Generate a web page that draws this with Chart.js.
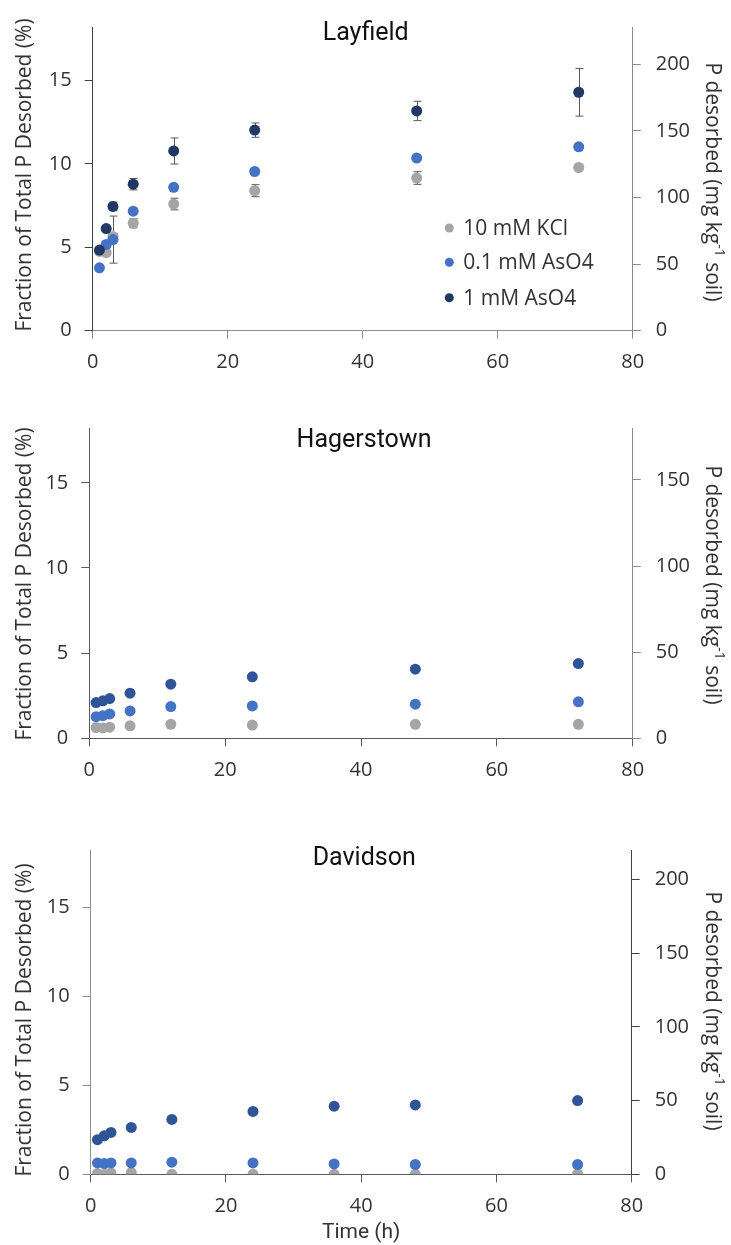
<!DOCTYPE html>
<html>
<head>
<meta charset="utf-8">
<script src="https://cdn.jsdelivr.net/npm/chart.js@4.4.1/dist/chart.umd.min.js"></script>
<style>
  body { margin: 0; background: #fff; width: 731px; height: 1245px; position: relative; overflow: hidden; }
  canvas { position: absolute; left: 0; }
</style>
</head>
<body>
<canvas id="c1" width="731" height="395" style="top:0px"></canvas>
<canvas id="c2" width="731" height="415" style="top:395px"></canvas>
<canvas id="c3" width="731" height="435" style="top:810px"></canvas>
<script>
// time points (h)
const timesA = [1, 2, 3, 6, 12, 24, 48, 72];
const timesD = [1, 2, 3, 6, 12, 24, 36, 48, 72];
const seriesNames = ['10 mM KCl', '0.1 mM AsO4', '1 mM AsO4'];

// Layfield, fraction of total P desorbed (%)
const layKCl = [4.75, 4.68, 5.63, 6.44, 7.59, 8.39, 9.15, 9.78];
const layAs01 = [3.77, 5.17, 5.46, 7.16, 8.59, 9.54, 10.35, 11.02];
const layAs1 = [4.83, 6.12, 7.45, 8.78, 10.77, 12.02, 13.17, 14.29];
const layKClErr = [0, 0, 0.2, 0.27, 0.35, 0.36, 0.38, 0];
const layAs01Err = [0, 0.2, 1.41, 0, 0, 0, 0, 0];
const layAs1Err = [0, 0, 0.26, 0.34, 0.78, 0.43, 0.58, 1.43];

// Hagerstown
const hagKCl = [0.63, 0.61, 0.65, 0.73, 0.82, 0.78, 0.82, 0.82];
const hagAs01 = [1.27, 1.33, 1.43, 1.61, 1.86, 1.90, 2.00, 2.14];
const hagAs1 = [2.10, 2.20, 2.33, 2.65, 3.18, 3.61, 4.06, 4.39];

// Davidson
const davKCl = [0.05, 0.0, 0.08, 0.1, 0.0, 0.0, 0.0, 0.0, 0.02];
const davAs01 = [0.64, 0.60, 0.64, 0.64, 0.68, 0.64, 0.58, 0.55, 0.55];
const davAs1 = [1.94, 2.16, 2.35, 2.63, 3.08, 3.53, 3.82, 3.89, 4.14];

// tick labels
const xTicks = [0, 20, 40, 60, 80];
const leftTicks = [0, 5, 10, 15];
const layRightTicks = [0, 50, 100, 150, 200];
const hagRightTicks = [0, 50, 100, 150];
const davRightTicks = [0, 50, 100, 150, 200];

const W = 731;
const tickFont = { family: '"Open Sans"', size: 20 };
const textColor = '#333333';
const gray = '#A5A5A5';
const blue = '#4472C4';

function pts(xs, ys) {
  return xs.map((x, i) => ({ x: x, y: ys[i] }));
}

function makeSets(xs, k, a01, a1, dark, errs) {
  errs = errs || [];
  return [
    { label: seriesNames[0], data: pts(xs, k), backgroundColor: gray, errors: errs[0], order: 3 },
    { label: seriesNames[1], data: pts(xs, a01), backgroundColor: blue, errors: errs[1], order: 2 },
    { label: seriesNames[2], data: pts(xs, a1), backgroundColor: dark, errors: errs[2], order: 1 },
  ];
}

const errorBars = {
  id: 'errorBars',
  beforeDatasetsDraw(chart) {
    const ctx = chart.ctx;
    const xs = chart.scales.x, ys = chart.scales.y;
    ctx.save();
    ctx.strokeStyle = '#595959';
    ctx.lineWidth = 1;
    chart.data.datasets.forEach(ds => {
      if (!ds.errors) return;
      ds.data.forEach((p, i) => {
        const e = ds.errors[i];
        if (!e) return;
        const x = Math.round(xs.getPixelForValue(p.x)) + 0.5;
        const y1 = ys.getPixelForValue(p.y + e);
        const y2 = ys.getPixelForValue(p.y - e);
        ctx.beginPath();
        ctx.moveTo(x, y1); ctx.lineTo(x, y2);
        ctx.moveTo(x - 4, y1); ctx.lineTo(x + 4, y1);
        ctx.moveTo(x - 4, y2); ctx.lineTo(x + 4, y2);
        ctx.stroke();
      });
    });
    ctx.restore();
  }
};

const texts = {
  id: 'texts',
  afterDraw(chart) {
    const p = chart.options.panel;
    const ctx = chart.ctx;
    const ca = chart.chartArea;
    ctx.save();
    ctx.fillStyle = '#111';
    ctx.textAlign = 'center';
    ctx.textBaseline = 'alphabetic';
    ctx.font = '25px Roboto';
    ctx.fillText(p.title, (ca.left + ca.right) / 2 + 3, p.titleY);

    // left axis title
    ctx.fillStyle = textColor;
    ctx.font = '21px "Open Sans"';
    ctx.save();
    ctx.translate(25, p.leftTitleY);
    ctx.rotate(-Math.PI / 2);
    ctx.textBaseline = 'middle';
    ctx.fillText('Fraction of Total P Desorbed (%)', 0, 0);
    ctx.restore();

    // right axis title with superscript
    ctx.save();
    ctx.translate(712, p.rightTitleY);
    ctx.rotate(Math.PI / 2);
    ctx.textBaseline = 'middle';
    ctx.textAlign = 'left';
    const a = 'P desorbed (mg kg', s = '-1', b = ' soil)';
    ctx.font = '21px "Open Sans"';
    const wa = ctx.measureText(a).width, wb = ctx.measureText(b).width;
    ctx.font = '14px "Open Sans"';
    const ws = ctx.measureText(s).width;
    let x = -(wa + ws + wb) / 2;
    ctx.font = '21px "Open Sans"';
    ctx.fillText(a, x, 0); x += wa;
    ctx.font = '14px "Open Sans"';
    ctx.fillText(s, x, -7); x += ws;
    ctx.font = '21px "Open Sans"';
    ctx.fillText(b, x, 0);
    ctx.restore();

    if (p.legend) {
      ctx.font = '21px "Open Sans"';
      ctx.textAlign = 'left';
      ctx.textBaseline = 'middle';
      chart.data.datasets.forEach((ds, i) => {
        const y = p.legend.rows[i];
        ctx.fillStyle = ds.backgroundColor;
        ctx.beginPath();
        ctx.arc(p.legend.x, y, 4.5, 0, Math.PI * 2);
        ctx.fill();
        ctx.fillStyle = textColor;
        ctx.fillText(ds.label, p.legend.x + 14, y + 1);
      });
    }

    if (p.xTitle) {
      ctx.font = '21px Roboto';
      ctx.fillStyle = textColor;
      ctx.textAlign = 'center';
      ctx.textBaseline = 'middle';
      ctx.fillText(p.xTitle, (ca.left + ca.right) / 2, p.xTitleY);
    }
    ctx.restore();
  }
};

function makeChart(id, datasets, p) {
  const setTicks = vals => scale => { scale.ticks = vals.map(v => ({ value: v })); };
  const h = document.getElementById(id).height;
  return new Chart(document.getElementById(id), {
    type: 'scatter',
    data: { datasets: datasets },
    options: {
      responsive: false,
      animation: false,
      panel: p,
      layout: { padding: { top: p.top, left: 0, right: 0, bottom: 0 } },
      elements: { point: { radius: 5.5, borderWidth: 0, hoverRadius: 5.5 } },
      plugins: { legend: { display: false }, tooltip: { enabled: false } },
      scales: {
        x: {
          type: 'linear', min: 0, max: 80,
          afterBuildTicks: setTicks(xTicks),
          afterFit: s => { s.height = h - p.bottom; },
          grid: { drawOnChartArea: false, tickLength: 8, color: p.xColor },
          border: { color: p.xColor },
          ticks: { font: tickFont, color: textColor, padding: 12, maxRotation: 0 }
        },
        y: {
          position: 'left', min: 0, max: 18.2,
          afterBuildTicks: setTicks(leftTicks),
          afterFit: s => { s.width = p.left; },
          grid: { drawOnChartArea: false, tickLength: 8, color: p.leftColor },
          border: { color: p.leftColor },
          ticks: { font: tickFont, color: textColor, padding: 13 }
        },
        y2: {
          position: 'right', min: 0, max: p.rightMax, display: true,
          afterBuildTicks: setTicks(p.rightTicks),
          afterFit: s => { s.width = W - p.right; },
          grid: { drawOnChartArea: false, tickLength: 8, color: p.rightColor },
          border: { color: p.rightColor },
          ticks: { font: tickFont, color: textColor, padding: 15 }
        }
      }
    },
    plugins: [errorBars, texts]
  });
}

makeChart('c1', makeSets(timesA, layKCl, layAs01, layAs1, '#203864', [layKClErr, layAs01Err, layAs1Err]), {
  title: 'Layfield', titleY: 39.5, top: 12.7, bottom: 330.7, left: 92.7, right: 632.7,
  rightMax: 228, rightTicks: layRightTicks, leftTitleY: 175, rightTitleY: 182,
  leftColor: '#404040', rightColor: '#8c8c8c', xColor: '#8c8c8c',
  legend: { x: 449.3, rows: [228, 262.3, 297.7] }
});

makeChart('c2', makeSets(timesA, hagKCl, hagAs01, hagAs1, '#2F5597'), {
  title: 'Hagerstown', titleY: 52, top: 33.3, bottom: 343.3, left: 89.3, right: 632.7,
  rightMax: 180, rightTicks: hagRightTicks, leftTitleY: 189, rightTitleY: 190,
  leftColor: '#595959', rightColor: '#8c8c8c', xColor: '#595959'
});

makeChart('c3', makeSets(timesD, davKCl, davAs01, davAs1, '#2F5597'), {
  title: 'Davidson', titleY: 55, top: 40, bottom: 364.3, left: 90.7, right: 631.7,
  rightMax: 220, rightTicks: davRightTicks, leftTitleY: 210, rightTitleY: 201,
  leftColor: '#8c8c8c', rightColor: '#404040', xColor: '#595959',
  xTitle: 'Time (h)', xTitleY: 423
});
</script>
</body>
</html>
